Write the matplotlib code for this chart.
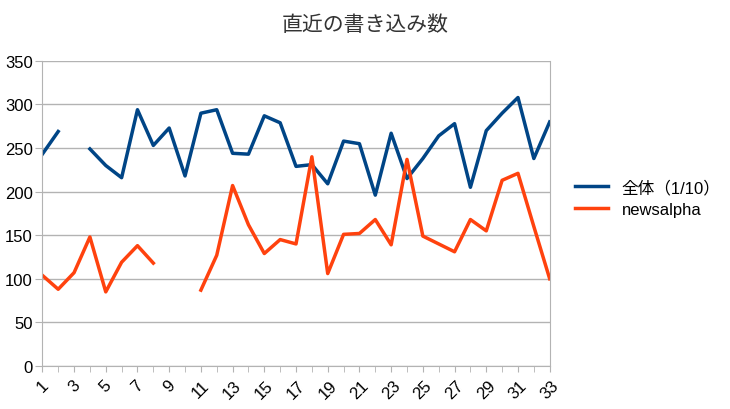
import matplotlib
matplotlib.use("Agg")
import matplotlib.pyplot as plt
import numpy as np

plt.rcParams['font.family'] = ['Liberation Sans', 'Noto Sans CJK JP', 'DejaVu Sans']

# data
days = list(range(1, 34))
total = [243, 269, np.nan, 249, 230, 216, 294, 253, 273, 218,
         290, 294, 244, 243, 287, 279, 229, 231, 209, 258,
         255, 196, 267, 215, 238, 264, 278, 205, 270, 290,
         308, 238, 280]
newsalpha = [104, 88, 107, 148, 85, 119, 138, 118, np.nan, np.nan,
             87, 127, 207, 162, 129, 145, 140, 240, 106, 151,
             152, 168, 139, 237, 149, 140, 131, 168, 155, 213,
             221, 160, 100]
labels = ['全体（1/10）', 'newsalpha']
title = '直近の書き込み数'

fig = plt.figure(figsize=(7.3, 4.1), dpi=100)
ax = fig.add_axes([0.058, 0.105, 0.695, 0.744])

ax.plot(days, total, color='#004586', lw=2.5, label=labels[0])
ax.plot(days, newsalpha, color='#ff420e', lw=2.5, label=labels[1])

ax.set_xlim(1, 33)
ax.set_ylim(0, 350)
ax.set_yticks(range(0, 351, 50))
ax.set_xticks(days[::2])
ax.set_xticks(days, minor=True)
ax.tick_params(axis='x', which='both', length=4, color='#b3b3b3', labelsize=12,
               labelrotation=45, pad=4)
ax.tick_params(axis='y', length=5, color='#b3b3b3', labelsize=12, pad=2)
for t in ax.get_xticklabels():
    t.set_ha('center')
ax.grid(axis='y', color='#b3b3b3', lw=1)
ax.set_axisbelow(True)
for s in ax.spines.values():
    s.set_color('#b3b3b3')
ax.spines['top'].set_visible(False)

fig.suptitle(title, x=0.5, y=0.962, fontsize=15, color='#333333')
ax.legend(loc='center left', bbox_to_anchor=(1.02, 0.55), frameon=False,
          fontsize=12, handlelength=2.0, labelspacing=0.4)

fig.savefig('out.png', dpi=100)
